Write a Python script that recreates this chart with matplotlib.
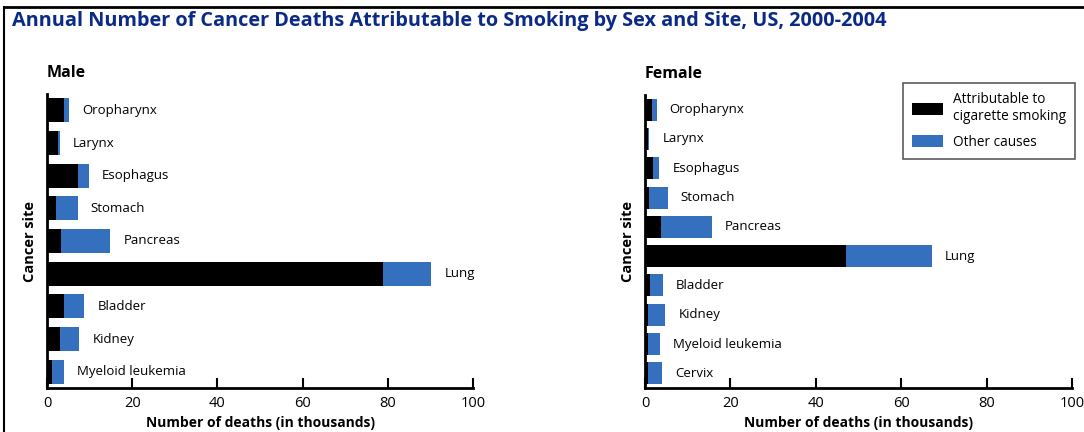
"""Annual cancer deaths attributable to smoking, by sex and site (US, 2000-2004)."""

import matplotlib.pyplot as plt
from matplotlib.lines import Line2D
from matplotlib.patches import Patch

# values in thousands of deaths
male_sites = ["Oropharynx", "Larynx", "Esophagus", "Stomach", "Pancreas",
              "Lung", "Bladder", "Kidney", "Myeloid leukemia"]
male_smoking = [3.9, 2.65, 7.2, 2.1, 3.3, 78.9, 4.1, 3.0, 1.1]
male_total = [5.2, 3.05, 9.85, 7.2, 14.9, 90.2, 8.75, 7.6, 4.0]

female_sites = ["Oropharynx", "Larynx", "Esophagus", "Stomach", "Pancreas",
                "Lung", "Bladder", "Kidney", "Myeloid leukemia", "Cervix"]
female_smoking = [1.55, 0.7, 1.95, 0.85, 3.8, 47.1, 1.25, 0.6, 0.8, 0.8]
female_total = [2.7, 0.95, 3.3, 5.3, 15.7, 67.1, 4.1, 4.8, 3.4, 4.0]

x_ticks = [0, 20, 40, 60, 80, 100]

BLACK = "#000000"
BLUE = "#3470bd"
NAVY = "#0a2a86"

plt.rcParams["font.family"] = ["Open Sans", "DejaVu Sans"]

fig = plt.figure(figsize=(10.84, 4.32), dpi=100)
W, H = 1084, 432


def px_axes(left, top, right, bottom):
    return fig.add_axes([left / W, 1 - bottom / H, (right - left) / W, (bottom - top) / H])


def draw_panel(ax, title, sites, smoking, total, height):
    n = len(sites)
    ypos = list(range(n))
    other = [t - s for s, t in zip(smoking, total)]
    ax.barh(ypos, smoking, height=height, color=BLACK, linewidth=0)
    ax.barh(ypos, other, left=smoking, height=height, color=BLUE, linewidth=0)
    for y, t, name in zip(ypos, total, sites):
        ax.annotate(name, (t, y), xytext=(9.5, 0), textcoords="offset points",
                    va="center", ha="left", fontsize=9.5)
    ax.set_xlim(0, 100)
    ax.set_ylim(n - 0.5, -0.5)
    ax.set_xticks(x_ticks)
    ax.set_yticks([])
    ax.tick_params(axis="x", direction="in", length=7, width=1.5, labelsize=10.5, pad=6)
    for s in ("top", "right"):
        ax.spines[s].set_visible(False)
    for s in ("left", "bottom"):
        ax.spines[s].set_linewidth(2)
    ax.set_xlabel("Number of deaths (in thousands)", fontsize=10, fontweight="bold", labelpad=3)
    ax.set_ylabel("Cancer site", fontsize=10.5, fontweight="bold", labelpad=7)
    ax.set_title(title, loc="left", fontsize=11.5, fontweight="bold", pad=12)


ax_m = px_axes(47, 94, 473, 388)
draw_panel(ax_m, "Male", male_sites, male_smoking, male_total, 0.74)

ax_f = px_axes(645, 95, 1072, 388)
draw_panel(ax_f, "Female", female_sites, female_smoking, female_total, 0.75)

handles = [Patch(facecolor=BLACK, label="Attributable to\ncigarette smoking"),
           Patch(facecolor=BLUE, label="Other causes")]
leg = ax_f.legend(handles=handles, loc="upper right", bbox_to_anchor=(1.007, 1.041),
                  borderaxespad=0, fontsize=9.8, frameon=True, fancybox=False,
                  handlelength=2.3, handleheight=1.0, handletextpad=0.7,
                  borderpad=0.65, labelspacing=0.8)
leg.get_frame().set_edgecolor("#333333")
leg.get_frame().set_linewidth(1.2)

fig.text(12 / W, 1 - 21 / H, "Annual Number of Cancer Deaths Attributable to Smoking by Sex and Site, US, 2000-2004",
         fontsize=14.3, fontweight="bold", color=NAVY, va="center", ha="left")

# frame lines along top and left edge
fig.add_artist(Line2D([4 / W, 1], [1 - 7 / H, 1 - 7 / H], color="black", linewidth=2))
fig.add_artist(Line2D([4 / W, 4 / W], [0, 1 - 7 / H], color="black", linewidth=1.5))

fig.savefig("out.png", dpi=100)
